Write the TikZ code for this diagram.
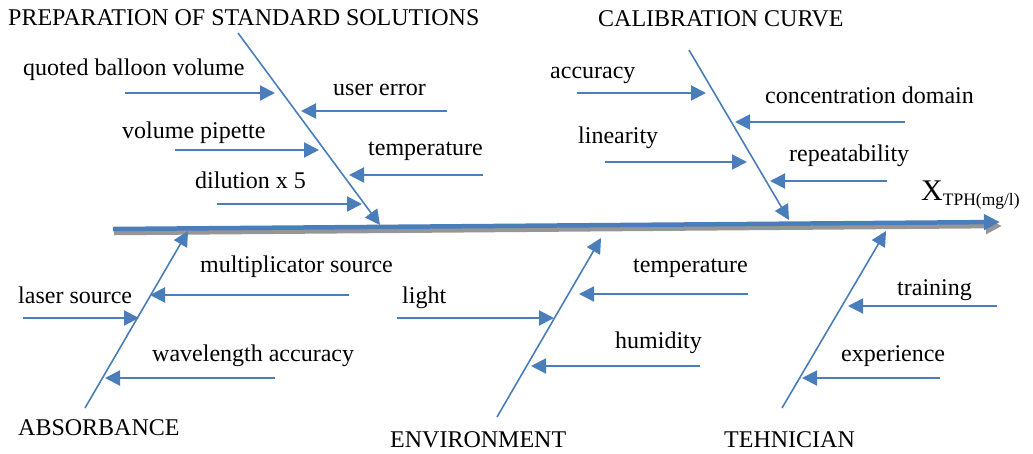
\documentclass[tikz,border=0pt]{standalone}
\usepackage{fontspec}
\setmainfont{Liberation Serif}
\usetikzlibrary{arrows.meta}
\definecolor{fishblue}{RGB}{74,126,187}
\definecolor{shadowgray}{RGB}{150,150,150}
\begin{document}
\begin{tikzpicture}[x=1pt,y=-1pt,
  lbl/.style={anchor=base west,inner sep=0pt,font=\fontsize{24}{28}\selectfont},
  bone/.style={draw=fishblue,line width=1.6pt,-{Triangle[length=15pt,width=15pt]}},
  cause/.style={draw=fishblue,line width=2pt,-{Triangle[length=15pt,width=15pt]}},
  spine/.style={line width=4.5pt,-{Triangle[length=16pt,width=15pt]}},
]
\useasboundingbox (0,0) rectangle (1033,453);

% spine
\coordinate (spLs) at (114,233); \coordinate (spRs) at (1002,226);
\coordinate (spL) at (113,229); \coordinate (spR) at (1000,222);
\draw[spine,draw=shadowgray,fill=shadowgray] (spLs) -- (spRs);
\draw[spine,draw=fishblue,fill=fishblue] (spL) -- (spR);
\node[lbl,font=\fontsize{30}{34}\selectfont] (x) at (921,200) {X\raisebox{-5pt}{\fontsize{17.5}{20}\selectfont TPH(mg/l)}};

% PREPARATION OF STANDARD SOLUTIONS
\node[lbl] (prep) at (8,25) {PREPARATION OF STANDARD SOLUTIONS};
\coordinate (pT) at (238,33); \coordinate (pB) at (380,225);
\draw[bone] (pT) -- (pB);
\node[lbl] (qbv) at (23,75) {quoted balloon volume};
\coordinate (qbvS) at (125,93); \coordinate (qbvE) at (275,93);
\draw[cause] (qbvS) -- (qbvE);
\node[lbl] (vp) at (122,138) {volume pipette};
\coordinate (vpS) at (175,150); \coordinate (vpE) at (319,150);
\draw[cause] (vpS) -- (vpE);
\node[lbl] (dil) at (195,188) {dilution x 5};
\coordinate (dilS) at (217,204); \coordinate (dilE) at (362,204);
\draw[cause] (dilS) -- (dilE);
\node[lbl] (ue) at (333,95) {user error};
\coordinate (ueS) at (447,111); \coordinate (ueE) at (301,111);
\draw[cause] (ueS) -- (ueE);
\node[lbl] (tp1) at (368,155) {temperature};
\coordinate (tp1S) at (483,175); \coordinate (tp1E) at (349,175);
\draw[cause] (tp1S) -- (tp1E);

% CALIBRATION CURVE
\node[lbl] (cal) at (598,26) {CALIBRATION CURVE};
\coordinate (cT) at (689,50); \coordinate (cB) at (789,220);
\draw[bone] (cT) -- (cB);
\node[lbl] (acc) at (550,78) {accuracy};
\coordinate (accS) at (577,93); \coordinate (accE) at (706,93);
\draw[cause] (accS) -- (accE);
\node[lbl] (lin) at (578,143) {linearity};
\coordinate (linS) at (605,162); \coordinate (linE) at (747,162);
\draw[cause] (linS) -- (linE);
\node[lbl] (cd) at (765,103) {concentration domain};
\coordinate (cdS) at (905,122); \coordinate (cdE) at (735,122);
\draw[cause] (cdS) -- (cdE);
\node[lbl] (rep) at (789,161) {repeatability};
\coordinate (repS) at (887,181); \coordinate (repE) at (770,181);
\draw[cause] (repS) -- (repE);

% ABSORBANCE
\node[lbl] (abs) at (18,435) {ABSORBANCE};
\coordinate (aB) at (85,408); \coordinate (aT) at (188,231);
\draw[bone] (aB) -- (aT);
\node[lbl] (ls) at (18,303) {laser source};
\coordinate (lsS) at (23,318); \coordinate (lsE) at (139,318);
\draw[cause] (lsS) -- (lsE);
\node[lbl] (ms) at (200,272) {multiplicator source};
\coordinate (msS) at (349,295); \coordinate (msE) at (150,295);
\draw[cause] (msS) -- (msE);
\node[lbl] (wa) at (152,361) {wavelength accuracy};
\coordinate (waS) at (275,378); \coordinate (waE) at (105,378);
\draw[cause] (waS) -- (waE);

% ENVIRONMENT
\node[lbl] (env) at (390,447) {ENVIRONMENT};
\coordinate (eB) at (497,417); \coordinate (eT) at (601,238);
\draw[bone] (eB) -- (eT);
\node[lbl] (li) at (402,303) {light};
\coordinate (liS) at (397,318); \coordinate (liE) at (554,318);
\draw[cause] (liS) -- (liE);
\node[lbl] (tp2) at (633,272) {temperature};
\coordinate (tp2S) at (748,294); \coordinate (tp2E) at (579,294);
\draw[cause] (tp2S) -- (tp2E);
\node[lbl] (hum) at (615,348) {humidity};
\coordinate (humS) at (700,366); \coordinate (humE) at (531,366);
\draw[cause] (humS) -- (humE);

% TEHNICIAN
\node[lbl] (teh) at (724,447) {TEHNICIAN};
\coordinate (tB) at (782,408); \coordinate (tT) at (886,231);
\draw[bone] (tB) -- (tT);
\node[lbl] (tr) at (897,295) {training};
\coordinate (trS) at (997,306); \coordinate (trE) at (848,306);
\draw[cause] (trS) -- (trE);
\node[lbl] (exp) at (841,361) {experience};
\coordinate (expS) at (940,378); \coordinate (expE) at (802,378);
\draw[cause] (expS) -- (expE);
\end{tikzpicture}
\end{document}
